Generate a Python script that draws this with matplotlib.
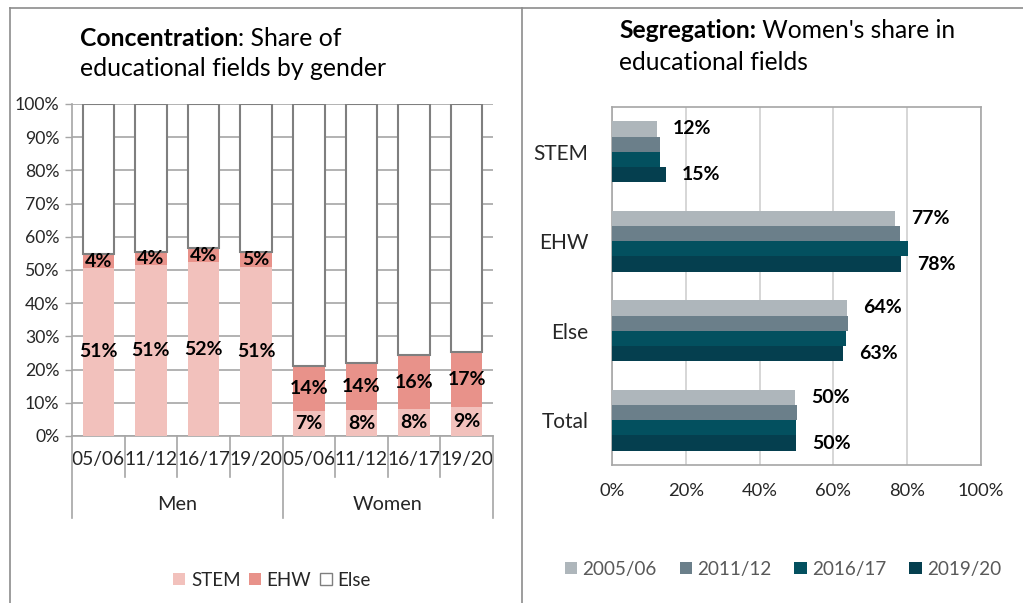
import matplotlib
matplotlib.use('Agg')
import matplotlib.pyplot as plt
import matplotlib.patches as mpatches
import matplotlib.transforms as mtransforms
from matplotlib.lines import Line2D

plt.rcParams['font.family'] = ['Lato', 'DejaVu Sans']

# ---- data: left panel (concentration) ----
years_short = ['05/06', '11/12', '16/17', '19/20']
groups = ['Men', 'Women']
stem_share = [50.7, 51.4, 52.3, 50.8, 7.4, 7.8, 8.1, 8.8]
ehw_share = [4.0, 4.1, 4.2, 4.6, 13.6, 14.3, 16.2, 16.6]
else_share = [100 - s - e for s, e in zip(stem_share, ehw_share)]

# ---- data: right panel (segregation) ----
fields = ['STEM', 'EHW', 'Else', 'Total']
years = ['2005/06', '2011/12', '2016/17', '2019/20']
women_share = {
    '2005/06': [12.1, 76.6, 63.6, 49.6],
    '2011/12': [12.9, 78.0, 64.0, 50.2],
    '2016/17': [13.1, 80.1, 63.5, 49.9],
    '2019/20': [14.6, 78.3, 62.7, 49.9],
}

C_STEM = '#F2C1BC'
C_EHW = '#E8928A'
YEAR_COLORS = ['#AEB6BB', '#6B7F8A', '#03505F', '#053F4F']
GRID = '#A6A6A6'
TXT = '#262626'

W, H = 1023, 603
fig = plt.figure(figsize=(W / 100, H / 100), dpi=100)
fig.patch.set_facecolor('white')


def px_axes(x0, y0, x1, y1):
    return fig.add_axes([x0 / W, 1 - y1 / H, (x1 - x0) / W, (y1 - y0) / H])


def two_part_title(x, y, bold, rest, size):
    t = fig.text(x / W, 1 - y / H, bold, fontsize=size, fontweight='bold',
                 color='black', va='center', ha='left')
    fig.canvas.draw()
    bb = t.get_window_extent()
    fig.text(bb.x1 / W, 1 - y / H, rest, fontsize=size, color='black',
             va='center', ha='left')


# outer frame lines
frame = fig.add_axes([0, 0, 1, 1])
frame.set_xlim(0, W)
frame.set_ylim(H, 0)
frame.axis('off')
frame.plot([10, W], [8, 8], color='#8C8C8C', lw=1.2)
frame.plot([10, 10], [8, H], color='#8C8C8C', lw=1.2)
frame.plot([522, 522], [8, H], color='#8C8C8C', lw=1.2)

# ================= left panel =================
ax = px_axes(72, 104, 493, 436)
x = list(range(len(stem_share)))
bw = 0.6
ax.bar(x, stem_share, bw, color=C_STEM, zorder=3, label='STEM')
ax.bar(x, ehw_share, bw, bottom=stem_share, color=C_EHW, zorder=3, label='EHW')
bottoms = [s + e for s, e in zip(stem_share, ehw_share)]
ax.bar(x, else_share, bw, bottom=bottoms, color='white', edgecolor='#7F7F7F',
       linewidth=1.5, zorder=3, label='Else')

for i in x:
    ax.text(i, stem_share[i] / 2, f'{round(stem_share[i])}%', ha='center', va='center',
            fontsize=14, fontweight='bold', color='black', zorder=5)
    ax.text(i, stem_share[i] + ehw_share[i] / 2, f'{round(ehw_share[i])}%',
            ha='center', va='center', fontsize=14, fontweight='bold',
            color='black', zorder=5)

ax.set_xlim(-0.5, 7.5)
ax.set_ylim(0, 100)
ax.set_yticks(range(0, 101, 10))
ax.set_yticklabels([f'{v}%' for v in range(0, 101, 10)])
ax.yaxis.grid(True, color=GRID, lw=1.2, zorder=0)
ax.tick_params(axis='y', length=5, width=1, color=GRID, labelsize=12.7,
               labelcolor=TXT, pad=4)
ax.set_xticks(x)
ax.set_xticklabels(years_short * 2)
ax.tick_params(axis='x', length=0, labelsize=13.8, labelcolor=TXT, pad=11)
for s in ['top', 'right']:
    ax.spines[s].set_visible(False)
for s in ['left', 'bottom']:
    ax.spines[s].set_color(GRID)
    ax.spines[s].set_linewidth(1.2)

trans = mtransforms.blended_transform_factory(ax.transData, ax.transAxes)
for b in [i - 0.5 for i in range(9)]:
    depth = -0.247 if b in (-0.5, 3.5, 7.5) else -0.124
    ax.add_line(Line2D([b, b], [0, depth], transform=trans, color=GRID,
                       lw=1.2, clip_on=False))
for gi, g in enumerate(groups):
    ax.text(1.5 + 4 * gi, -0.205, g, transform=trans, ha='center', va='center',
            fontsize=14.3, color=TXT)

two_part_title(80, 38, 'Concentration', ': Share of', 17.8)
fig.text(80 / W, 1 - 69 / H, 'educational fields by gender', fontsize=17.8,
         color='black', va='center', ha='left')

h_left = [mpatches.Patch(facecolor=C_STEM, edgecolor='none', label='STEM'),
          mpatches.Patch(facecolor=C_EHW, edgecolor='none', label='EHW'),
          mpatches.Patch(facecolor='white', edgecolor='#7F7F7F', label='Else')]
fig.legend(handles=h_left, loc='center', bbox_to_anchor=(272 / W, 1 - 580 / H),
           ncol=3, frameon=False, fontsize=13.5, handlelength=0.65,
           handleheight=0.65, handletextpad=0.3, columnspacing=0.45,
           labelcolor=TXT)

# ================= right panel =================
ax2 = px_axes(612, 107, 981, 465)
bh = 0.17
ypos = list(range(len(fields)))
for k, yr in enumerate(years):
    off = (k - 1.5) * bh
    vals = women_share[yr]
    ax2.barh([p + off for p in ypos], vals, bh, color=YEAR_COLORS[k], zorder=3,
             label=yr)
    if k in (0, 3):
        for p, v in zip(ypos, vals):
            ax2.text(v + 4.4, p + off, f'{round(v)}%', ha='left', va='center',
                     fontsize=14, fontweight='bold', color='black', zorder=5)

ax2.set_xlim(0, 100)
ax2.set_ylim(3.5, -0.5)
ax2.set_yticks(ypos)
ax2.set_yticklabels(fields)
ax2.set_xticks(range(0, 101, 20))
ax2.set_xticklabels([f'{v}%' for v in range(0, 101, 20)])
ax2.xaxis.grid(True, color='#D0D0D0', lw=1.2, zorder=0)
ax2.tick_params(axis='y', length=0, labelsize=15, labelcolor=TXT, pad=17)
ax2.tick_params(axis='x', length=0, labelsize=13.2, labelcolor=TXT, pad=13)
for s in ax2.spines.values():
    s.set_color('#A6A6A6')
    s.set_linewidth(1.2)

two_part_title(619, 30, 'Segregation:', " Women's share in", 17.7)
fig.text(619 / W, 1 - 62 / H, 'educational fields', fontsize=17.7,
         color='black', va='center', ha='left')

h_right = [mpatches.Patch(facecolor=c, edgecolor='none', label=yr)
           for c, yr in zip(YEAR_COLORS, years)]
fig.legend(handles=h_right, loc='center', bbox_to_anchor=(783 / W, 1 - 569 / H),
           ncol=4, frameon=False, fontsize=13.6, handlelength=0.65,
           handleheight=0.65, handletextpad=0.3, columnspacing=1.2,
           labelcolor='#595959')

plt.savefig('out.png', dpi=100, facecolor='white')
